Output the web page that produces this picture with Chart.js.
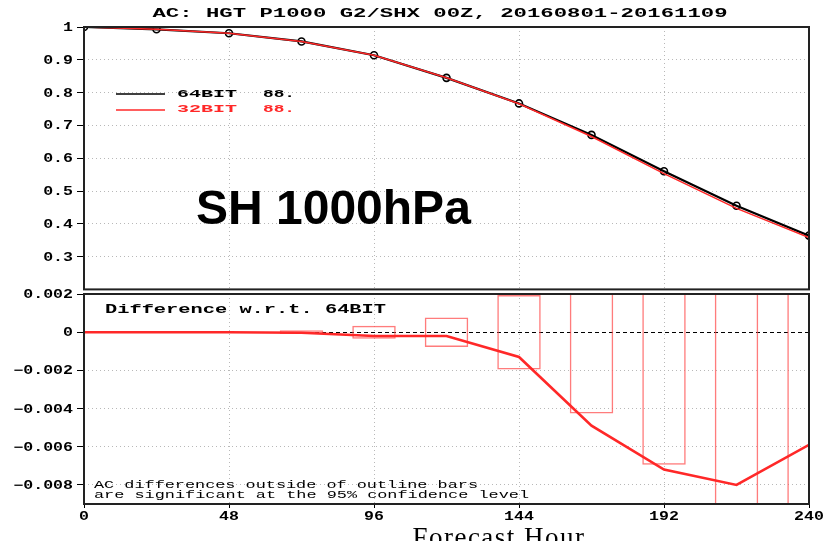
<!DOCTYPE html>
<html>
<head>
<meta charset="utf-8">
<script src="https://cdn.jsdelivr.net/npm/chart.js@4.4.1/dist/chart.umd.min.js"></script>
<style>
  html, body { margin: 0; padding: 0; background: #fff; overflow: hidden; }
  #wrap { position: relative; width: 839px; height: 541px; overflow: hidden; }
  #top { position: absolute; left: 0; top: 0; width: 839px; height: 295px; }
  #diff { position: absolute; left: 0; top: 284px; width: 839px; height: 270px; }
</style>
</head>
<body>
<div id="wrap">
  <canvas id="top" width="839" height="295"></canvas>
  <canvas id="diff" width="839" height="270"></canvas>
</div>
<script>
// forecast hours and anomaly correlation
const hours = [0, 24, 48, 72, 96, 120, 144, 168, 192, 216, 240];
const ac64 = [1.0, 0.993, 0.981, 0.956, 0.914, 0.845, 0.767, 0.671, 0.560, 0.455, 0.364];
const ac32 = [1.0, 0.993, 0.981, 0.956, 0.914, 0.845, 0.766, 0.666, 0.553, 0.447, 0.358];
// 32BIT minus 64BIT, and half height of the significance boxes
const diff32 = [0, 0, 0, -0.00003, -0.0002, -0.0002, -0.0013, -0.0049, -0.0072, -0.0080, -0.0059];
const sigHalf = [null, null, null, 0.0001, 0.00034, 0.00077, 0.00195, 0.00426, 0.00695, 0.0100, 0.0120];

const xTicks = [0, 48, 96, 144, 192, 240];
const acTicks = [1, 0.9, 0.8, 0.7, 0.6, 0.5, 0.4, 0.3];
const diffTicks = [0.002, 0, -0.002, -0.004, -0.006, -0.008];

const RED = "rgb(255,40,40)";
const LABEL_FONT = 'bold 12px "Liberation Mono"';

function wideText(ctx, text, x, y, font, color, k, align, baseline) {
  ctx.save();
  ctx.font = font;
  ctx.fillStyle = color;
  ctx.textAlign = "left";
  ctx.textBaseline = baseline || "alphabetic";
  const w = ctx.measureText(text).width * k;
  let x0 = x;
  if (align === "center") x0 = x - w / 2;
  if (align === "right") x0 = x - w;
  ctx.translate(x0, y);
  ctx.scale(k, 1);
  ctx.fillText(text, 0, 0);
  ctx.restore();
}

// stretch a text to a given width
function fitText(ctx, text, x, y, font, color, width, align) {
  ctx.save();
  ctx.font = font;
  const k = width / ctx.measureText(text).width;
  ctx.restore();
  wideText(ctx, text, x, y, font, color, k, align);
}

function frame(chart) {
  const { ctx, chartArea: a } = chart;
  ctx.save();
  ctx.strokeStyle = "#222";
  ctx.lineWidth = 2;
  ctx.strokeRect(a.left, a.top, a.right - a.left, a.bottom - a.top);
  ctx.restore();
}

function yLabels(chart, fmt) {
  const s = chart.scales.y;
  s.ticks.forEach((t) => {
    wideText(chart.ctx, fmt(t.value), s.right - 11, s.getPixelForValue(t.value) + 1, LABEL_FONT, "#000", 1.38, "right", "middle");
  });
}

function xLabels(chart) {
  const s = chart.scales.x;
  s.ticks.forEach((t) => {
    wideText(chart.ctx, String(t.value), s.getPixelForValue(t.value), chart.chartArea.bottom + 16, LABEL_FONT, "#000", 1.38, "center");
  });
}

const isZero = (c) => c.tick && c.tick.value === 0 && c.scale.id === "y" && c.chart.canvas.id === "diff";
const gridDots = {
  color: (c) => (isZero(c) ? "#000" : "#b8b8b8"),
  lineWidth: 1,
  tickColor: "#000",
};
const borderDots = (c) => (isZero(c) ? [4, 3] : [1, 3]);

const topDecor = {
  id: "topDecor",
  afterDraw(chart) {
    const ctx = chart.ctx;
    frame(chart);
    yLabels(chart, (v) => String(+v.toFixed(1)));
    fitText(ctx, "AC: HGT P1000 G2/SHX 00Z, 20160801-20161109", 440, 17, 'bold 12px "Liberation Mono"', "#000", 575, "center");
    ctx.save();
    ctx.lineWidth = 1.5;
    ctx.strokeStyle = "#000";
    ctx.beginPath(); ctx.moveTo(116, 94); ctx.lineTo(165, 94); ctx.stroke();
    ctx.strokeStyle = RED;
    ctx.beginPath(); ctx.moveTo(116, 110); ctx.lineTo(165, 110); ctx.stroke();
    ctx.restore();
    fitText(ctx, "64BIT", 177, 97, 'bold 11px "Liberation Mono"', "#000", 60, "left");
    fitText(ctx, "88.", 263, 97, 'bold 11px "Liberation Mono"', "#000", 32, "left");
    fitText(ctx, "32BIT", 177, 112, 'bold 11px "Liberation Mono"', RED, 60, "left");
    fitText(ctx, "88.", 263, 112, 'bold 11px "Liberation Mono"', RED, 32, "left");
    ctx.save();
    ctx.font = 'bold 48px "Liberation Sans"';
    ctx.fillStyle = "#000";
    ctx.textAlign = "left";
    ctx.fillText("SH 1000hPa", 196, 224);
    ctx.restore();
  },
};

const diffDecor = {
  id: "diffDecor",
  afterDraw(chart) {
    const ctx = chart.ctx;
    frame(chart);
    yLabels(chart, (v) => (v === 0 ? "0" : (v < 0 ? "\u2212" : "") + Math.abs(v).toFixed(3)));
    xLabels(chart);
    fitText(ctx, "Difference w.r.t. 64BIT", 105, 29, 'bold 12px "Liberation Mono"', "#000", 281, "left");
    fitText(ctx, "AC differences outside of outline bars", 94, 204, '10px "Liberation Mono"', "#000", 384, "left");
    fitText(ctx, "are significant at the 95% confidence level", 94, 214, '10px "Liberation Mono"', "#000", 435, "left");
    ctx.save();
    ctx.font = '27px "Liberation Serif"';
    ctx.letterSpacing = "1.5px";
    ctx.fillStyle = "#000";
    ctx.textAlign = "center";
    ctx.fillText("Forecast Hour", 499, 262);
    ctx.restore();
  },
};

new Chart(document.getElementById("top"), {
  type: "line",
  data: {
    datasets: [
      {
        label: "32BIT",
        data: hours.map((h, i) => ({ x: h, y: ac32[i] })),
        borderColor: RED,
        borderWidth: 1.6,
        pointRadius: 0,
        order: 0,
      },
      {
        label: "64BIT",
        data: hours.map((h, i) => ({ x: h, y: ac64[i] })),
        borderColor: "#000",
        borderWidth: 2.2,
        pointRadius: 3.5,
        pointBorderWidth: 1.6,
        pointBorderColor: "#000",
        pointBackgroundColor: "rgba(0,0,0,0)",
        order: 1,
      },
    ],
  },
  options: {
    responsive: false,
    animation: false,
    layout: { padding: { top: 27, right: 30, bottom: 1, left: 0 } },
    plugins: { legend: { display: false }, tooltip: { enabled: false } },
    scales: {
      x: {
        type: "linear", min: 0, max: 240,
        afterBuildTicks: (s) => { s.ticks = xTicks.map((v) => ({ value: v })); },
        afterFit: (s) => { s.height = 0; },
        ticks: { display: false },
        grid: { ...gridDots, drawTicks: false },
        border: { display: false, dash: borderDots },
      },
      y: {
        min: 0.2, max: 1.0,
        afterBuildTicks: (s) => { s.ticks = acTicks.map((v) => ({ value: v })); },
        afterFit: (s) => { s.width = 84; },
        ticks: { display: false },
        grid: { ...gridDots, tickLength: 7 },
        border: { display: false, dash: borderDots },
      },
    },
  },
  plugins: [topDecor],
});

new Chart(document.getElementById("diff"), {
  type: "bar",
  data: {
    datasets: [
      {
        type: "line",
        label: "32BIT - 64BIT",
        data: hours.map((h, i) => ({ x: h, y: diff32[i] })),
        borderColor: RED,
        borderWidth: 2.6,
        pointRadius: 0,
        order: 0,
      },
      {
        type: "bar",
        label: "significance",
        data: hours.map((h, i) => ({ x: h, y: sigHalf[i] === null ? null : [-sigHalf[i], sigHalf[i]] })).filter((d) => d.y !== null),
        borderColor: "rgba(255,80,80,0.75)",
        backgroundColor: "rgba(0,0,0,0)",
        borderWidth: 1.5,
        borderSkipped: false,
        barPercentage: 0.6,
        categoryPercentage: 1,
        clip: 0,
        order: 1,
      },
    ],
  },
  options: {
    responsive: false,
    animation: false,
    layout: { padding: { top: 10, right: 30, bottom: 0, left: 0 } },
    plugins: { legend: { display: false }, tooltip: { enabled: false } },
    scales: {
      x: {
        type: "linear", min: 0, max: 240, offset: false,
        afterBuildTicks: (s) => { s.ticks = xTicks.map((v) => ({ value: v })); },
        afterFit: (s) => { s.height = 50; },
        ticks: { display: false },
        grid: { ...gridDots, offset: false, tickLength: 4 },
        border: { display: false, dash: borderDots },
      },
      y: {
        min: -0.009, max: 0.002,
        afterBuildTicks: (s) => { s.ticks = diffTicks.map((v) => ({ value: v })); },
        afterFit: (s) => { s.width = 84; },
        ticks: { display: false },
        grid: { ...gridDots, tickLength: 7 },
        border: { display: false, dash: borderDots },
      },
    },
  },
  plugins: [diffDecor],
});
</script>
</body>
</html>
